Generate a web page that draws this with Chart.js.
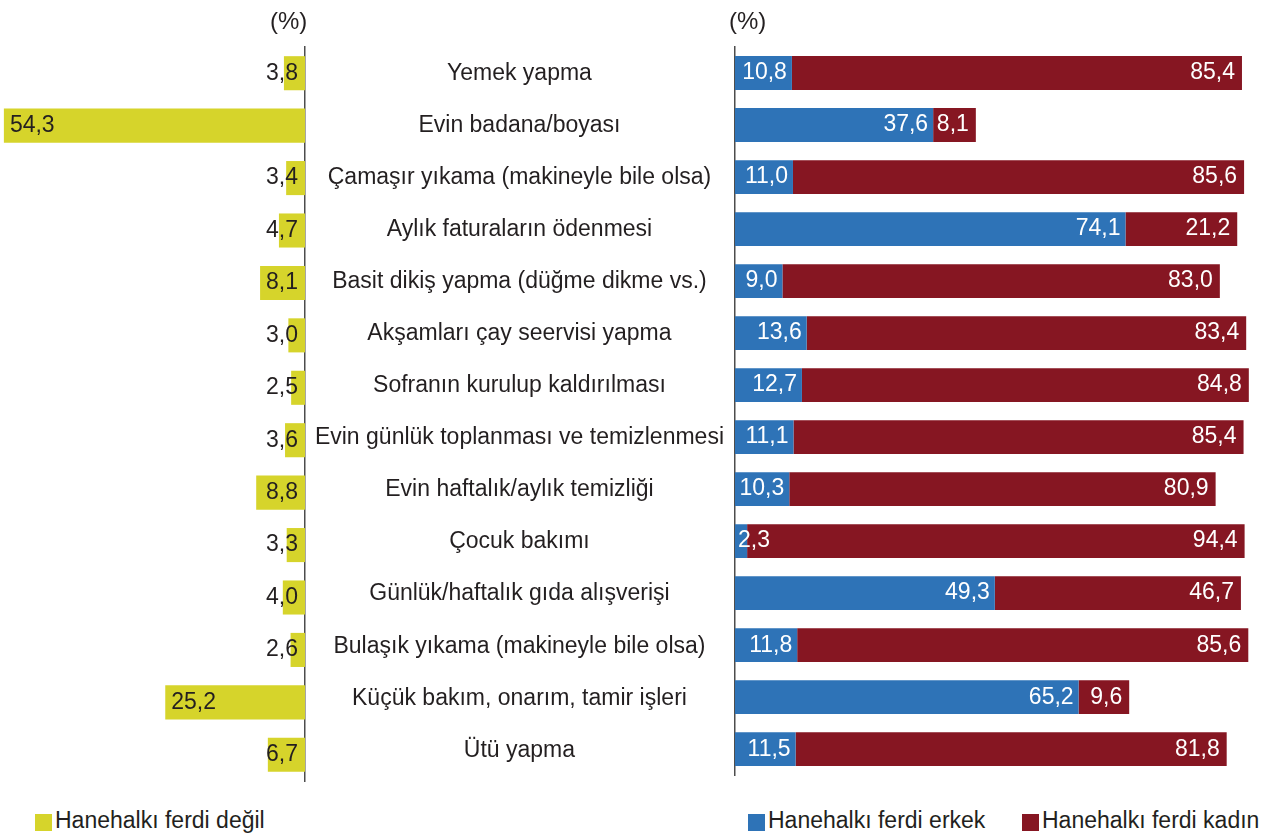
<!DOCTYPE html>
<html>
<head>
<meta charset="utf-8">
<script src="https://cdn.jsdelivr.net/npm/chart.js@4/dist/chart.umd.min.js"></script>
<style>
  body { margin: 0; background: #fff; font-family: "Liberation Sans", Arial, sans-serif; color: #231f20; }
  #wrap { position: relative; width: 1278px; height: 836px; overflow: hidden; }
  canvas { position: absolute; top: 0; }
  .unit { position: absolute; font-size: 24px; line-height: 24px; top: 9px; }
  .leg { position: absolute; top: 809px; font-size: 23px; line-height: 23px; white-space: nowrap; }
  .leg i { display: inline-block; width: 17px; height: 17px; margin-right: 3px; vertical-align: -3px; }
</style>
</head>
<body>
<div id="wrap">
  <canvas id="leftChart" width="312" height="800" style="left:0"></canvas>
  <canvas id="rightChart" width="973" height="800" style="left:305px"></canvas>
  <div class="unit" style="left:270px">(%)</div>
  <div class="unit" style="left:729px">(%)</div>
  <div class="leg" id="legLeft" style="left:35px"></div>
  <div class="leg" id="legMale" style="left:748px"></div>
  <div class="leg" id="legFemale" style="left:1022px"></div>
</div>
<script>
// Hane içi işlerin kimin tarafından yapıldığı (%)
const categories = [
  'Yemek yapma',
  'Evin badana/boyası',
  'Çamaşır yıkama (makineyle bile olsa)',
  'Aylık faturaların ödenmesi',
  'Basit dikiş yapma (düğme dikme vs.)',
  'Akşamları çay seervisi yapma',
  'Sofranın kurulup kaldırılması',
  'Evin günlük toplanması ve temizlenmesi',
  'Evin haftalık/aylık temizliği',
  'Çocuk bakımı',
  'Günlük/haftalık gıda alışverişi',
  'Bulaşık yıkama (makineyle bile olsa)',
  'Küçük bakım, onarım, tamir işleri',
  'Ütü yapma'
];
const notMember = [3.8, 54.3, 3.4, 4.7, 8.1, 3.0, 2.5, 3.6, 8.8, 3.3, 4.0, 2.6, 25.2, 6.7];
const male      = [10.8, 37.6, 11.0, 74.1, 9.0, 13.6, 12.7, 11.1, 10.3, 2.3, 49.3, 11.8, 65.2, 11.5];
const female    = [85.4, 8.1, 85.6, 21.2, 83.0, 83.4, 84.8, 85.4, 80.9, 94.4, 46.7, 85.6, 9.6, 81.8];
const seriesNames = ['Hanehalkı ferdi değil', 'Hanehalkı ferdi erkek', 'Hanehalkı ferdi kadın'];

const YELLOW = '#d6d42b';
const BLUE = '#2e73b7';
const RED = '#861622';
const TEXT = '#231f20';
const FONT = '23px "Liberation Sans", Arial, sans-serif';

const fmt = v => v.toFixed(1).replace('.', ',');

// etiketleri cubuklarin uzerine yaz
const valueLabels = {
  id: 'valueLabels',
  afterDatasetsDraw(chart) {
    const ctx = chart.ctx;
    ctx.save();
    ctx.font = FONT;
    ctx.textBaseline = 'middle';
    chart.data.datasets.forEach((ds, di) => {
      const meta = chart.getDatasetMeta(di);
      meta.data.forEach((bar, i) => {
        const txt = fmt(ds.data[i]);
        const w = ctx.measureText(txt).width;
        const y = bar.y;
        if (ds.side === 'left') {
          ctx.fillStyle = TEXT;
          if (ds.data[i] >= 20) {
            ctx.textAlign = 'left';
            ctx.fillText(txt, bar.x + 6, y);
          } else {
            ctx.textAlign = 'right';
            ctx.fillText(txt, bar.base - 7, y);
          }
        } else if (ds.side === 'male') {
          ctx.fillStyle = '#fff';
          let right = bar.x - 5;
          if (right - w < bar.base + 3) right = bar.base + 3 + w;
          ctx.textAlign = 'right';
          ctx.fillText(txt, right, y);
        } else {
          ctx.fillStyle = '#fff';
          ctx.textAlign = 'right';
          ctx.fillText(txt, bar.x - 7, y);
        }
      });
    });
    ctx.restore();
  }
};

new Chart(document.getElementById('leftChart').getContext('2d'), {
  type: 'bar',
  data: {
    labels: categories,
    datasets: [{
      label: seriesNames[0],
      side: 'left',
      data: notMember,
      backgroundColor: YELLOW,
      borderWidth: 0,
      categoryPercentage: 1,
      barPercentage: 0.65
    }]
  },
  options: {
    responsive: false,
    animation: false,
    indexAxis: 'y',
    layout: { padding: { top: 47, bottom: 19, right: 7, left: 0 } },
    scales: {
      x: { display: false, reverse: true, min: 0, max: 55 },
      y: {
        position: 'right',
        grid: { display: false, drawTicks: false },
        ticks: { display: false },
        border: { display: true, color: '#4d4d4d', width: 1.5 }
      }
    },
    plugins: { legend: { display: false }, tooltip: { enabled: false } }
  },
  plugins: [valueLabels]
});

new Chart(document.getElementById('rightChart').getContext('2d'), {
  type: 'bar',
  data: {
    labels: categories,
    datasets: [
      { label: seriesNames[1], side: 'male', data: male, backgroundColor: BLUE, borderWidth: 0,
        categoryPercentage: 1, barPercentage: 0.65 },
      { label: seriesNames[2], side: 'female', data: female, backgroundColor: RED, borderWidth: 0,
        categoryPercentage: 1, barPercentage: 0.65 }
    ]
  },
  options: {
    responsive: false,
    animation: false,
    indexAxis: 'y',
    layout: { padding: { top: 47, bottom: 19, right: 16, left: 0 } },
    scales: {
      x: { display: false, stacked: true, min: 0, max: 100 },
      y: {
        stacked: true,
        grid: { display: false, drawTicks: false },
        border: { display: true, color: '#4d4d4d', width: 1.5 },
        ticks: {
          color: TEXT,
          font: { family: '"Liberation Sans", Arial, sans-serif', size: 23 },
          crossAlign: 'center',
          padding: 11,
          labelOffset: 1
        },
        afterFit(scale) { scale.width = 430; }
      }
    },
    plugins: { legend: { display: false }, tooltip: { enabled: false } }
  },
  plugins: [valueLabels]
});

// lejant
function legendItem(id, color, text) {
  const el = document.getElementById(id);
  el.innerHTML = '<i style="background:' + color + '"></i>' + text;
}
legendItem('legLeft', YELLOW, seriesNames[0]);
legendItem('legMale', BLUE, seriesNames[1]);
legendItem('legFemale', RED, seriesNames[2]);
</script>
</body>
</html>
